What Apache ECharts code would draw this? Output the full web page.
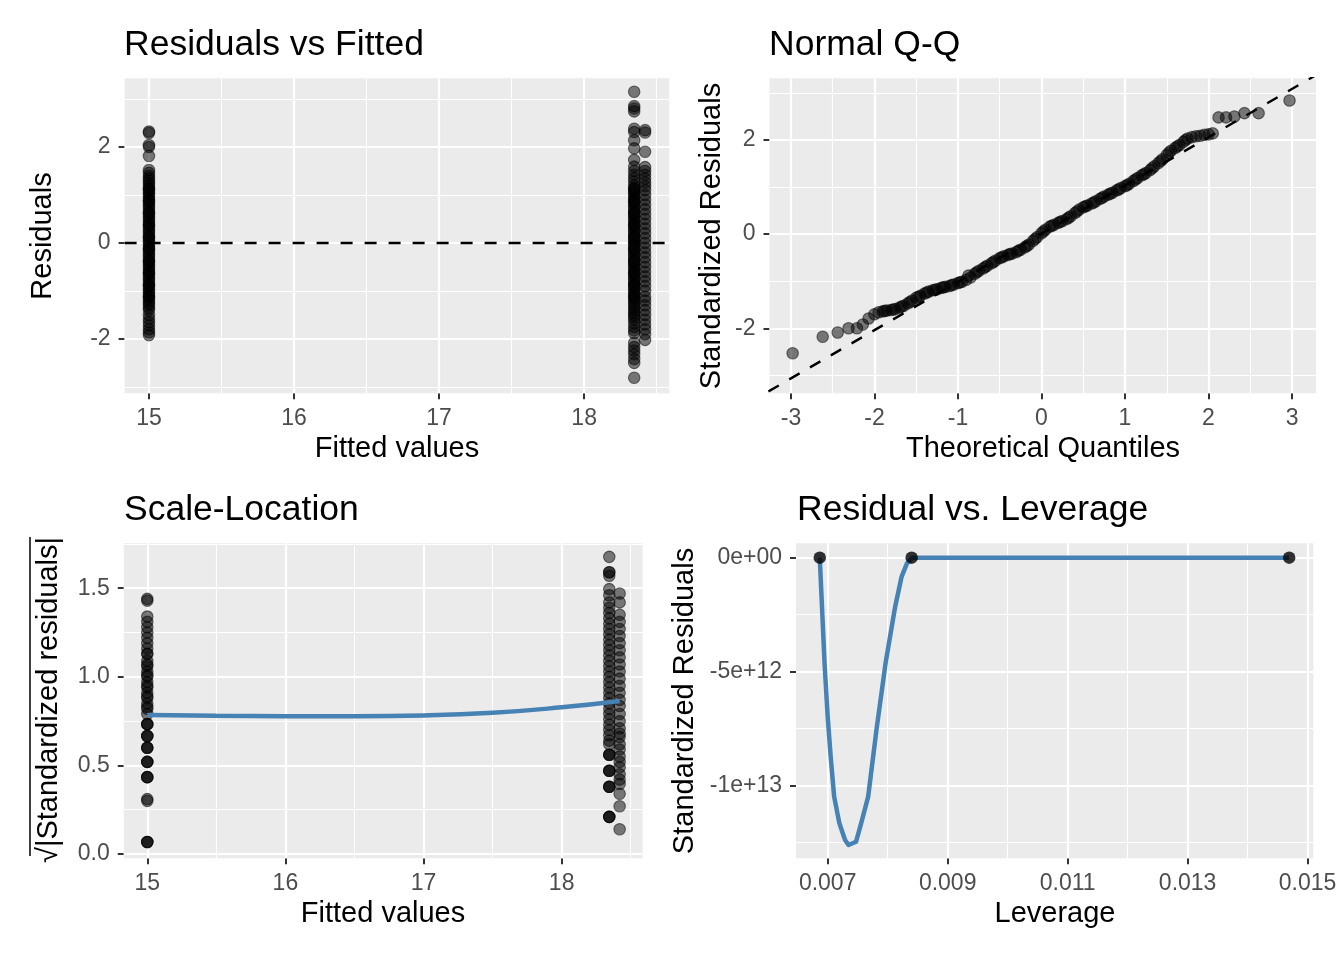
<!DOCTYPE html>
<html><head><meta charset="utf-8">
<script src="https://cdn.jsdelivr.net/npm/echarts@6/dist/echarts.min.js"></script>
<style>html,body{margin:0;padding:0;background:#fff}#c{width:1344px;height:960px}</style>
</head><body><div id="c"></div>
<script>
// ---------------- DATA ----------------
// Residuals vs Fitted
const fittedLevels = [15.0, 18.345, 18.42];
const residG1 = [2.32, 2.29, 2.04, 2.00, 1.81, 1.52, 1.46, 1.40, 1.35, 1.30, 1.25, 1.20, 1.15, 1.10, 1.05, 1.00, 0.95, 0.90, 0.85, 0.80, 0.75, 0.70, 0.65, 0.60, 0.55, 0.50, 0.45, 0.40, 0.35, 0.30, 0.25, 0.20, 0.15, 0.10, 0.05, 0.00, -0.05, -0.10, -0.15, -0.20, -0.25, -0.30, -0.35, -0.40, -0.45, -0.50, -0.55, -0.60, -0.65, -0.70, -0.75, -0.80, -0.85, -0.90, -0.95, -1.00, -1.05, -1.10, -1.15, -1.20, -1.25, -1.30, -1.35, -1.40, -1.50, -1.58, -1.65, -1.72, -1.80, -1.86, -1.92, 1.12, 0.88, 0.62, 0.38, 0.12, -0.12, -0.38, -0.62, -0.88, -1.12];
const residG2a = [3.15, 2.85, 2.80, 2.74, 2.38, 2.31, 2.14, 1.97, 1.73, 1.59, 1.50, 1.42, 1.35, 1.28, 1.20, 1.15, 1.10, 1.05, 1.00, 0.95, 0.90, 0.85, 0.80, 0.75, 0.70, 0.65, 0.60, 0.55, 0.50, 0.45, 0.40, 0.35, 0.30, 0.25, 0.20, 0.15, 0.10, 0.05, 0.00, -0.05, -0.10, -0.15, -0.20, -0.25, -0.30, -0.35, -0.40, -0.45, -0.50, -0.55, -0.60, -0.65, -0.70, -0.75, -0.80, -0.85, -0.90, -0.95, -1.00, -1.05, -1.10, -1.15, -1.20, -1.25, -1.30, -1.35, -1.40, -1.45, -1.50, -1.55, -1.60, -1.67, -1.75, -1.82, -1.88, -2.08, -2.17, -2.24, -2.32, -2.42, -2.50, -2.81, 1.12, 0.88, 0.62, 0.38, 0.12, -0.12, -0.38, -0.62, -0.88, -1.12];
const residG2b = [2.35, 2.30, 1.90, 1.58, 1.50, 1.42, 1.34, 1.26, 1.18, 1.10, 1.00, 0.90, 0.80, 0.70, 0.60, 0.50, 0.40, 0.30, 0.20, 0.10, 0.00, -0.10, -0.20, -0.30, -0.40, -0.50, -0.60, -0.70, -0.80, -0.90, -1.00, -1.12, -1.20, -1.30, -1.40, -1.50, -1.60, -1.70, -1.80, -1.90, -2.02];

// Normal Q-Q
const qqTheo = [-2.98, -2.62, -2.44, -2.31, -2.21, -2.14, -2.07, -2.00, -1.95, -1.90, -1.85, -1.80, -1.75, -1.70, -1.65, -1.60, -1.55, -1.50, -1.45, -1.40, -1.35, -1.30, -1.25, -1.20, -1.15, -1.10, -1.05, -1.00, -0.95, -0.90, -0.85, -0.80, -0.75, -0.70, -0.65, -0.60, -0.55, -0.50, -0.45, -0.40, -0.35, -0.30, -0.25, -0.20, -0.15, -0.10, -0.05, 0.00, 0.05, 0.10, 0.15, 0.20, 0.25, 0.30, 0.35, 0.40, 0.45, 0.50, 0.55, 0.60, 0.65, 0.70, 0.75, 0.80, 0.85, 0.90, 0.95, 1.00, 1.05, 1.10, 1.15, 1.20, 1.25, 1.30, 1.35, 1.40, 1.45, 1.50, 1.55, 1.60, 1.65, 1.70, 1.75, 1.80, 1.85, 1.90, 1.95, 2.00, 2.05, 2.12, 2.21, 2.31, 2.43, 2.60, 2.97];
const qqSample = [-2.53, -2.18, -2.09, -2.00, -2.00, -1.92, -1.79, -1.70, -1.66, -1.64, -1.62, -1.61, -1.59, -1.56, -1.52, -1.47, -1.41, -1.35, -1.31, -1.26, -1.22, -1.19, -1.17, -1.14, -1.12, -1.10, -1.07, -1.04, -1.01, -0.97, -0.92, -0.84, -0.78, -0.73, -0.67, -0.62, -0.56, -0.51, -0.47, -0.44, -0.41, -0.38, -0.33, -0.28, -0.22, -0.14, -0.06, 0.02, 0.10, 0.16, 0.20, 0.24, 0.28, 0.32, 0.38, 0.45, 0.52, 0.57, 0.61, 0.65, 0.70, 0.75, 0.80, 0.84, 0.88, 0.93, 0.98, 1.02, 1.07, 1.13, 1.19, 1.25, 1.30, 1.36, 1.44, 1.51, 1.59, 1.68, 1.77, 1.83, 1.89, 1.96, 2.03, 2.06, 2.08, 2.09, 2.11, 2.12, 2.14, 2.48, 2.48, 2.50, 2.57, 2.57, 2.84];
// extra observations in the dense central band (between the listed quantiles)
const qqTheoMid = [-1.875, -1.775, -1.675, -1.575, -1.475, -1.375, -1.275, -1.175, -1.075, -0.975, -0.875, -0.775, -0.675, -0.575, -0.475, -0.375, -0.275, -0.175, -0.075, 0.025, 0.125, 0.225, 0.325, 0.425, 0.525, 0.625, 0.725, 0.825, 0.925, 1.025, 1.125, 1.225, 1.325, 1.425, 1.525, 1.625, 1.725];
const qqSampleMid = [-1.63, -1.60, -1.54, -1.44, -1.33, -1.24, -1.18, -1.13, -1.08, -1.02, -0.88, -0.81, -0.70, -0.59, -0.49, -0.42, -0.35, -0.25, -0.10, 0.06, 0.18, 0.26, 0.35, 0.48, 0.59, 0.67, 0.77, 0.86, 0.95, 1.04, 1.16, 1.27, 1.40, 1.55, 1.73, 1.86, 2.00];
const qqLineX = [-3.27, 3.28];
const qqLineY = [-3.34, 3.37];

// Scale-Location
const slG1 = [1.44, 1.43, 1.34, 1.31, 1.28, 1.25, 1.22, 1.19, 1.16, 1.13, 1.13, 1.09, 1.06, 1.03, 1.00, 0.97, 0.94, 0.91, 0.88, 0.85, 0.82, 0.79, 1.07, 1.01, 0.95, 0.89, 0.83, 0.733, 0.733, 0.733, 0.666, 0.666, 0.666, 0.60, 0.60, 0.60, 0.52, 0.52, 0.52, 0.434, 0.434, 0.434, 0.31, 0.30, 0.068, 0.068, 0.068];
const slG2a = [1.677, 1.59, 1.59, 1.57, 1.495, 1.46, 1.42, 1.39, 1.36, 1.33, 1.30, 1.27, 1.24, 1.21, 1.18, 1.15, 1.12, 1.09, 1.06, 1.03, 1.00, 0.97, 0.94, 0.91, 0.88, 0.85, 0.82, 0.79, 0.76, 0.73, 0.70, 0.67, 0.64, 0.62, 0.56, 0.56, 0.56, 0.47, 0.47, 0.47, 0.38, 0.38, 0.38, 0.21, 0.21, 0.21];
const slG2b = [1.47, 1.42, 1.35, 1.31, 1.27, 1.23, 1.19, 1.15, 1.11, 1.07, 1.03, 0.99, 0.95, 0.91, 0.87, 0.835, 0.79, 0.75, 0.71, 0.68, 0.66, 0.62, 0.59, 0.55, 0.52, 0.49, 0.45, 0.42, 0.395, 0.34, 0.27, 0.14];
const loessX = [15.0, 15.5, 16.0, 16.5, 17.0, 17.5, 18.0, 18.42];
const loessY = [0.784, 0.780, 0.778, 0.778, 0.782, 0.797, 0.828, 0.864];

// Residual vs. Leverage
const levPointsX = [0.006868, 0.0084, 0.014693];
const levPointsY = [0, 0, 0];
const levCurveX = [0.006868, 0.006948, 0.007000, 0.007050, 0.007108, 0.007195, 0.007290, 0.007348, 0.007472, 0.007558, 0.007675, 0.007813, 0.007965, 0.008125, 0.008233, 0.008322, 0.008415, 0.014693];
const levCurveY = [0, -4.63e12, -6.97e12, -8.73e12, -1.048e13, -1.165e13, -1.238e13, -1.260e13, -1.246e13, -1.165e13, -1.048e13, -7.56e12, -4.63e12, -2.15e12, -8.3e11, -2.5e11, 0, 0];

// Ticks / gridlines
const fitTicks = [15, 16, 17, 18];
const fitMinor = [15.5, 16.5, 17.5, 18.5];
const resTicks = [-2, 0, 2];
const resMinor = [-3, -1, 1, 3];
const qqXTicks = [-3, -2, -1, 0, 1, 2, 3];
const qqXMinor = [-2.5, -1.5, -0.5, 0.5, 1.5, 2.5];
const slTicks = [0, 0.5, 1.0, 1.5];
const slMinor = [0.25, 0.75, 1.25, 1.75];
const levXTicks = [0.007, 0.009, 0.011, 0.013, 0.015];
const levXMinor = [0.008, 0.010, 0.012, 0.014];
const levYTicks = [-1e13, -5e12, 0];
const levYLabels = ['-1e+13', '-5e+12', '0e+00'];
const levYMinor = [-1.25e13, -7.5e12, -2.5e12];

// ---------------- CHART ----------------
const FONT = '"Liberation Sans", Arial, Helvetica, sans-serif';
const pairs = (xs, ys) => xs.map((x, i) => [x, ys[i]]);
const col = (x, ys) => ys.map(y => [x, y]);

function axis(dim, gi, min, max, ticks, fmt) {
  return {
    type: 'value', gridIndex: gi, min: min, max: max, scale: true,
    axisLine: { show: false, onZero: false },
    axisTick: { show: true, customValues: ticks, length: 6, lineStyle: { color: '#333333', width: 2 } },
    axisLabel: { show: true, customValues: ticks, margin: 14, color: '#4D4D4D', fontSize: 23, fontFamily: FONT, formatter: fmt },
    splitLine: { show: false }, minorSplitLine: { show: false }
  };
}
function gridLines(gi, xMaj, xMin, yMaj, yMin) {
  const ml = (vals, key, w) => vals.map(v => ({ [key]: v, lineStyle: { color: '#FFFFFF', width: w, type: 'solid' } }));
  return {
    type: 'scatter', xAxisIndex: gi, yAxisIndex: gi, data: [], z: 1, silent: true,
    markLine: {
      z: 1, precision: 12,
      silent: true, symbol: ['none', 'none'], animation: false, label: { show: false },
      emphasis: { disabled: true },
      data: [...ml(xMin, 'xAxis', 1.1), ...ml(yMin, 'yAxis', 1.1), ...ml(xMaj, 'xAxis', 2.2), ...ml(yMaj, 'yAxis', 2.2)]
    }
  };
}
// per-point opacity so overlapping observations darken like ggplot alpha
const ptStyle = { color: '#000000', borderColor: '#000000', borderWidth: 1.1, opacity: 0.5 };
function pts(gi, data, name) {
  return { name: name, type: 'scatter', xAxisIndex: gi, yAxisIndex: gi, data: data, symbolSize: 11.5,
    itemStyle: ptStyle, z: 3, silent: true, emphasis: { disabled: true }, large: false };
}

const grids = [
  { left: 124.6, top: 78.3, width: 544.7, height: 315 },
  { left: 769.5, top: 78.3, width: 546.5, height: 315 },
  { left: 123.8, top: 543.3, width: 518.9, height: 315 },
  { left: 796, top: 543.3, width: 517.3, height: 315 }
].map(g => Object.assign(g, { show: true, backgroundColor: '#EBEBEB', borderWidth: 0, containLabel: false }));

const intFmt = v => String(Math.round(v));
const xAxes = [
  axis('x', 0, 14.832, 18.587, fitTicks, intFmt),
  axis('x', 1, -3.257, 3.287, qqXTicks, intFmt),
  axis('x', 2, 14.83, 18.587, fitTicks, intFmt),
  axis('x', 3, 0.006472, 0.015095, levXTicks, v => v.toFixed(3))
];
const yAxes = [
  axis('y', 0, -3.133, 3.43, resTicks, intFmt),
  axis('y', 1, -3.38, 3.31, resTicks, intFmt),
  axis('y', 2, -0.024, 1.7535, slTicks, v => v.toFixed(1)),
  axis('y', 3, -1.3184e13, 6.3e11, levYTicks, v => levYLabels[levYTicks.findIndex(t => Math.abs(t - v) < 1e9)] || '')
];

const series = [
  gridLines(0, fitTicks, fitMinor, resTicks, resMinor),
  gridLines(1, qqXTicks, qqXMinor, resTicks, resMinor),
  gridLines(2, fitTicks, fitMinor, slTicks, slMinor),
  gridLines(3, levXTicks, levXMinor, levYTicks, levYMinor),
  // panel 1
  pts(0, col(fittedLevels[0], residG1), 'r1'),
  pts(0, col(fittedLevels[1], residG2a), 'r2'),
  pts(0, col(fittedLevels[2], residG2b), 'r3'),
  { type: 'scatter', xAxisIndex: 0, yAxisIndex: 0, data: [], z: 4, silent: true,
    markLine: { z: 5, silent: true, symbol: ['none', 'none'], animation: false, label: { show: false },
      lineStyle: { color: '#000', width: 2.4, type: [12, 12] }, data: [{ yAxis: 0 }] } },
  // panel 2
  pts(1, pairs(qqTheo, qqSample), 'qq'),
  pts(1, pairs(qqTheoMid, qqSampleMid), 'qq2'),
  { type: 'line', xAxisIndex: 1, yAxisIndex: 1, data: pairs(qqLineX, qqLineY), showSymbol: false, symbol: 'none',
    lineStyle: { color: '#000', width: 2.4, type: [12, 12] }, z: 4, silent: true, clip: true },
  // panel 3
  pts(2, col(fittedLevels[0], slG1), 's1'),
  pts(2, col(fittedLevels[1], slG2a), 's2'),
  pts(2, col(fittedLevels[2], slG2b), 's3'),
  { type: 'line', xAxisIndex: 2, yAxisIndex: 2, data: pairs(loessX, loessY), smooth: true, showSymbol: false, symbol: 'none',
    lineStyle: { color: '#4682B4', width: 4.5 }, z: 4, silent: true },
  // panel 4
  { type: 'line', xAxisIndex: 3, yAxisIndex: 3, data: pairs(levCurveX, levCurveY), smooth: false, showSymbol: false, symbol: 'none',
    lineStyle: { color: '#4682B4', width: 4.5, join: 'round' }, z: 3, silent: true },
  { type: 'scatter', xAxisIndex: 3, yAxisIndex: 3, data: pairs(levPointsX, levPointsY), symbolSize: 12.5,
    itemStyle: { color: '#000' }, z: 4, silent: true }
];

const txt = (text, x, y, size, opts) => Object.assign({
  type: 'text', x: x, y: y, silent: true,
  style: { text: text, fontSize: size, fontFamily: FONT, fill: '#000', align: 'left', verticalAlign: 'middle' }
}, opts || {});
const center = (o) => { o.style.align = 'center'; return o; };
const rot = (o) => { o.rotation = Math.PI / 2; o.style.align = 'center'; return o; };

const graphic = [
  txt('Residuals vs Fitted', 124, 45, 35.5),
  txt('Normal Q-Q', 769, 45, 35.5),
  txt('Scale-Location', 124, 510, 35.5),
  txt('Residual vs. Leverage', 797, 510, 35.5),
  center(txt('Fitted values', 397, 449, 29)),
  center(txt('Theoretical Quantiles', 1043, 449, 29)),
  center(txt('Fitted values', 383, 914, 29)),
  center(txt('Leverage', 1055, 914, 29)),
  rot(txt('Residuals', 42.5, 236, 29)),
  rot(txt('Standardized Residuals', 711.5, 236, 29)),
  rot(txt('√|Standardized residuals|', 48.5, 700, 29)),
  rot(txt('Standardized Residuals', 684.5, 701, 29)),
  { type: 'line', silent: true, shape: { x1: 30, y1: 537, x2: 30, y2: 856 }, style: { stroke: '#000', lineWidth: 1.5 } }
];

const chart = echarts.init(document.getElementById('c'), null, { renderer: 'canvas' });
chart.setOption({
  animation: false,
  backgroundColor: '#FFFFFF',
  grid: grids,
  xAxis: xAxes,
  yAxis: yAxes,
  series: series,
  graphic: graphic
});
</script>
</body></html>
